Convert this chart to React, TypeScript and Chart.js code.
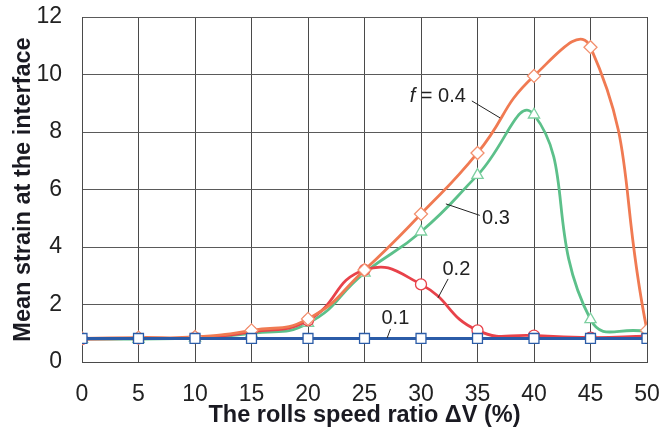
import React, { useEffect, useRef } from "react";
import { Chart, registerables } from "chart.js";

Chart.register(...registerables);

const speedRatio = [0, 5, 10, 15, 20, 25, 30, 35, 40, 45, 50];
const strainF01 = [0.82, 0.82, 0.82, 0.82, 0.82, 0.82, 0.82, 0.82, 0.82, 0.82, 0.82];
const strainF02 = [0.8, 0.82, 0.85, 1.05, 1.45, 3.2, 2.7, 1.1, 0.92, 0.85, 0.9];
const strainF03 = [0.8, 0.8, 0.84, 1.0, 1.35, 3.1, 4.53, 6.5, 8.6, 1.48, 1.05];
const strainF04 = [0.82, 0.85, 0.87, 1.1, 1.5, 3.2, 5.15, 7.27, 9.95, 10.95, 1.1];
const yTicks = [0, 2, 4, 6, 8, 10, 12];

const seriesNames = ["0.1", "0.4", "0.2", "0.3"];

// label text, label anchor (data), leader from (data) to (data)
const labelNotes = [
  { text: "0.4", prefix: "f = ", at: [29.0, 9.22], from: [34.5, 9.08], to: [37.0, 8.49] },
  { text: "0.3", prefix: "", at: [35.4, 5.0], from: [35.2, 5.1], to: [32.2, 5.5] },
  { text: "0.2", prefix: "", at: [31.9, 3.23], from: [32.4, 2.89], to: [31.5, 2.23] },
  { text: "0.1", prefix: "", at: [26.5, 1.53], from: [27.3, 1.15], to: [27.0, 0.83] },
];

const annotationPlugin = {
  id: "notes",
  afterDatasetsDraw(chart: any) {
    const { ctx, scales } = chart;
    const xs = scales.x;
    const ys = scales.y;
    ctx.save();
    labelNotes.forEach((n) => {
      ctx.strokeStyle = "#222";
      ctx.lineWidth = 1;
      ctx.beginPath();
      ctx.moveTo(xs.getPixelForValue(n.from[0]), ys.getPixelForValue(n.from[1]));
      ctx.lineTo(xs.getPixelForValue(n.to[0]), ys.getPixelForValue(n.to[1]));
      ctx.stroke();
      const px = xs.getPixelForValue(n.at[0]);
      const py = ys.getPixelForValue(n.at[1]);
      ctx.textBaseline = "middle";
      ctx.textAlign = "left";
      ctx.fillStyle = "#222";
      let x = px;
      if (n.prefix) {
        ctx.font = "italic 20px 'Liberation Sans', Arial, sans-serif";
        ctx.fillText("f", x, py);
        x += ctx.measureText("f ").width;
        ctx.font = "20px 'Liberation Sans', Arial, sans-serif";
        ctx.fillText("= ", x, py);
        x += ctx.measureText("= ").width;
      }
      ctx.font = "20px 'Liberation Sans', Arial, sans-serif";
      ctx.fillText(n.text, x, py);
    });
    ctx.restore();
  },
};

export default function App() {
  const ref = useRef<HTMLCanvasElement | null>(null);
  useEffect(() => {
    document.body.style.margin = "0";
    const el = ref.current;
    if (!el) return;
    const mk = (vals: number[]) => speedRatio.map((x, i) => ({ x, y: vals[i] }));
    const tickFont = { family: "'Liberation Sans', Arial, sans-serif", size: 23 };
    const titleFont = { family: "'Liberation Sans', Arial, sans-serif", size: 23.5, weight: "bold" };
    const chart = new Chart(el, {
      type: "line",
      data: {
        datasets: [
          {
            label: seriesNames[0],
            data: mk(strainF01),
            borderColor: "#2b5ca8",
            backgroundColor: "#ffffff",
            borderWidth: 3,
            pointStyle: "rect",
            pointRadius: 7,
            pointBorderWidth: 1.3,
            tension: 0.5,
          },
          {
            label: seriesNames[1],
            data: mk(strainF04),
            borderColor: "#f07a52",
            backgroundColor: "#ffffff",
            pointBorderColor: "#f2906e",
            borderWidth: 2.8,
            pointStyle: "rectRot",
            pointRadius: 6.5,
            pointBorderWidth: 1.3,
            tension: 0.5,
          },
          {
            label: seriesNames[2],
            data: mk(strainF02),
            borderColor: "#e8424a",
            backgroundColor: "#ffffff",
            borderWidth: 2.8,
            pointStyle: "circle",
            pointRadius: 5.5,
            pointBorderWidth: 1.3,
            tension: 0.5,
          },
          {
            label: seriesNames[3],
            data: mk(strainF03),
            borderColor: "#5cc08a",
            backgroundColor: "#ffffff",
            pointBorderColor: "#7ccfa0",
            borderWidth: 2.8,
            pointStyle: "triangle",
            pointRadius: 6.5,
            pointBorderWidth: 1.3,
            tension: 0.5,
          },
        ],
      },
      options: {
        animation: false,
        responsive: false,
        layout: { padding: { top: 17, right: 14, left: 0, bottom: 0 } },
        plugins: { legend: { display: false }, tooltip: { enabled: false } },
        scales: {
          x: {
            type: "linear",
            min: 0,
            max: 50,
            afterBuildTicks: (s: any) => {
              s.ticks = speedRatio.map((v) => ({ value: v }));
            },
            afterFit: (s: any) => {
              s.height = 68;
              s.paddingLeft = 0;
              s.paddingRight = 0;
            },
            grid: { color: "#4a4a4a", lineWidth: 1, drawTicks: false },
            border: { color: "#4a4a4a", width: 1 },
            ticks: { padding: 19, color: "#222", font: tickFont },
            title: {
              display: true,
              text: "The rolls speed ratio ΔV (%)",
              color: "#1a1a22",
              padding: { top: 0, bottom: 0 },
              font: titleFont,
            },
          },
          y: {
            type: "linear",
            min: 0,
            max: 12,
            afterBuildTicks: (s: any) => {
              s.ticks = yTicks.map((v) => ({ value: v }));
            },
            afterFit: (s: any) => {
              s.width = 82;
              s.paddingTop = 0;
              s.paddingBottom = 0;
            },
            grid: { color: "#5a5a5a", lineWidth: 1, drawTicks: false },
            border: { color: "#4a4a4a", width: 1 },
            ticks: { padding: 20, color: "#222", font: tickFont },
            title: {
              display: true,
              text: "Mean strain at the interface",
              color: "#1a1a22",
              padding: { top: 9, bottom: 0 },
              font: titleFont,
            },
          },
        },
      },
      plugins: [annotationPlugin],
    } as any);
    return () => chart.destroy();
  }, []);
  return <canvas ref={ref} width={661} height={430} style={{ display: "block" }} />;
}
